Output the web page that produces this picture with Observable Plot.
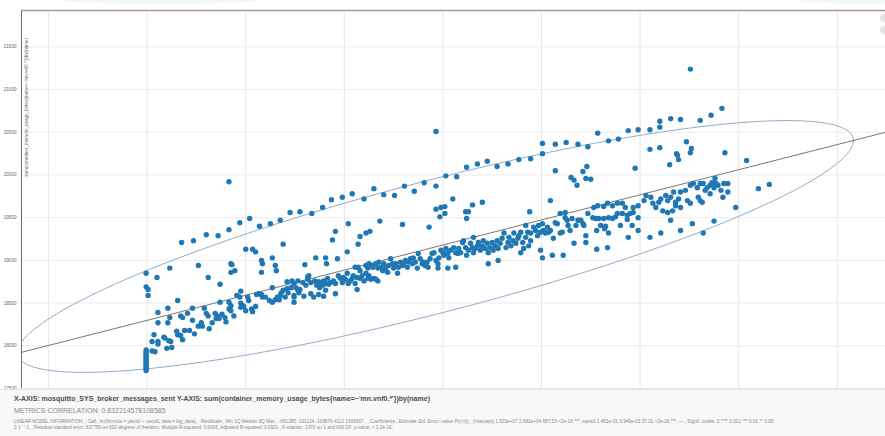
<!DOCTYPE html>
<html>
<head>
<meta charset="utf-8">
<script src="https://cdn.jsdelivr.net/npm/d3@7"></script>
<script src="https://cdn.jsdelivr.net/npm/@observablehq/plot@0.6"></script>
<style>
  html, body { margin: 0; padding: 0; background: #fff; }
  #wrap { position: relative; width: 885px; height: 436px; overflow: hidden; font-family: "Liberation Sans", Arial, sans-serif; }
  #chart { position: absolute; left: 0; top: 0; }
  #footer { position: absolute; left: 0; top: 389px; width: 885px; height: 47px; background: #f7f8f9; border-top: 1px solid #e2e2e2; }
  .fl { position: absolute; left: 14px; white-space: nowrap; }
  #l1 { top: 5px; font-size: 7px; font-weight: bold; color: #4d4d4d; }
  #l2 { top: 17px; font-size: 7px; color: #8a8a8a; }
  #l3 { top: 29px; font-size: 4.7px; color: #8a8a8a; }
  #l4 { top: 35px; font-size: 4.7px; color: #8a8a8a; }
  .ic { position: absolute; left: 880px; width: 8px; height: 8px; border-radius: 50%; background: #e4e4e4; }
  .glow { position: absolute; background: #eef8f8; border-radius: 50%; }
</style>
</head>
<body>
<div id="wrap">
  <div class="glow" style="left:60px;top:-6px;width:200px;height:10px;"></div>
  <div class="glow" style="left:800px;top:-6px;width:120px;height:10px;"></div>
  <div id="chart"></div>
  <div class="ic" style="top:14px;"></div>
  <div class="ic" style="top:26px;"></div>
  <div id="footer">
    <div class="fl" id="l1"></div>
    <div class="fl" id="l2"></div>
    <div class="fl" id="l3"></div>
    <div class="fl" id="l4"></div>
  </div>
</div>
<script>
// x: messages sent (x 10^4), y: memory usage (x 10^4 bytes)
const xGridTicks = [100, 200, 300, 400, 500, 600, 700, 800, 900];
const yGridTicks = [1750, 1800, 1850, 1900, 1950, 2000, 2050, 2100, 2150];
const xDomain = [72.6, 948.9];
const yDomain = [1750, 2192.6];

const regIntercept = 1771;
const regSlope = 0.294;

const ellipseCenter = [492.5, 1916.3];
const ellipseAxisU = [423.9, 124.1];
const ellipseAxisV = [0, 79.6];

const baseColumn = [[199,1771],[199,1773],[199,1775],[199,1777],[199,1779],[199,1781],[199,1783],[199,1785],[199,1787],[199,1789],[199,1791],[199,1793],[199,1795]];

const upperScatter = [
[235,1921],[247,1923],[260,1930],[272,1929],[283,1936],[294,1944],[304,1949],[314,1940],[325,1943],[335,1947],[345,1956],[355,1957],[338,1919],[223,1891],[252,1894],[199,1885],[210,1880],[262,1880],[274,1872],[300,1913],[307,1913],[310,1910],[285,1896],[286,1895],[285,1886],[289,1888],[316,1900],[317,1896],[316,1886],[327,1903],[330,1894],[331,1888],[342,1875],[283,1992],[199,1869],[201,1866],[201,1859],[231,1853],
[367,1955],[378,1962],[404,1943],[436,1946],[459,1942],[391,1934],[388,1924],[414,1919],[416,1928],[422,1932],[426,1934],[403,1910],[371,1903],[381,1903],[382,1896],[393,1902],[360,1895],[486,1939],[363,1881],[387,1971],[398,1974],[408,1978],[420,1972],[430,1984],[440,1977],[451,1976],[461,1987],[471,1981],[481,1991],[493,1987],[493,2051],
[493,1960],[498,1962],[502,1963],[502,1955],[497,1951],[523,1957],[526,1957],[524,1949],[530,1965],[540,1968],[510,1972],[588,1957],[609,1970],[503,1999],[514,1998],[524,2009],[535,2013],[545,2016],[555,2010],[566,2013],[577,2018],[589,2019],[601,2037],[601,2025],[614,2036],[625,2038],[637,2036],[647,2033],[657,2049],[614,2005],[630,1997],[633,1994],[636,1988],[642,2004],[646,2010],[645,1996],[650,1995],
[751,2124],[783,2078],[772,2070],[761,2064],[741,2065],[731,2066],[720,2063],[720,2056],[710,2053],[698,2053],[688,2052],[668,2040],[678,2042],[710,2030],[720,2032],[747,2039],[752,2031],[751,2026],[737,2025],[738,2023],[739,2018],[730,2012],[786,2026],[808,2017],[695,2008],[820,1984],[831,1989],[797,1962]
];

const bandWest = [
[211,1839],[211,1827],[221,1844],[223,1833],[221,1827],[207,1813],[205,1805],[205,1794],[208,1793],[211,1802],[211,1805],[217,1810],[218,1809],[220,1797],[225,1798],[222,1806],[224,1805],[230,1817],[231,1813],[234,1835],[236,1833],[234,1812],[236,1807],[238,1818],[243,1818],[246,1844],[241,1838],[246,1830],[248,1814],[252,1823],[256,1823],[255,1827],[258,1844],[260,1838],[262,1835],[263,1820],[266,1827],[269,1838],[271,1835],[270,1832],[273,1832],[274,1851],[276,1837],[279,1833],[280,1828],[283,1851],[285,1847],[283,1843],[285,1841],[288,1835],[291,1859],[294,1857],[295,1864],[295,1850],[295,1845],[297,1847],[298,1846],[300,1841],[302,1857],[303,1853],[306,1843],[307,1840],[310,1846],[311,1860],[313,1861],[316,1860],[317,1857],[320,1857],[324,1853],[327,1851],[327,1868],[330,1854],[332,1857],[334,1854],[335,1859],[336,1862],[338,1865],[342,1867],[343,1862],[340,1857],[346,1868],[349,1873],[353,1876],[355,1866],[349,1857],[349,1851],[354,1862]
];

const bandMid = [
[347,1876],[351,1868],[353,1865],[349,1859],[358,1874],[361,1871],[363,1878],[364,1882],[366,1874],[370,1876],[372,1871],[374,1875],[375,1868],[376,1874],[378,1871],[379,1876],[381,1873],[381,1865],[383,1879],[384,1872],[386,1874],[389,1876],[391,1873],[391,1861],[394,1882],[396,1879],[398,1874],[399,1880],[401,1878],[403,1885],[404,1873],[406,1876],[408,1879],[409,1882],[411,1873],[413,1880],[413,1866],[416,1879],[418,1882],[420,1876],[422,1885],[424,1879],[425,1882],[427,1878],[430,1879],[432,1878],[434,1876],[359,1858],[366,1861],[369,1857],[374,1860],[379,1858],
[411,1892],[414,1892],[416,1888],[422,1894],[424,1891],[425,1896],[427,1894],[429,1892],[432,1896],[434,1891],[435,1898],[437,1892],[439,1888],[440,1896],[442,1891],[444,1886],[445,1894],[447,1902],[449,1896],[450,1891],[452,1896],[454,1885],[455,1892],[457,1898],[459,1894],[460,1896],[462,1900],[464,1892],[465,1898],[467,1902],[469,1896],[470,1903],[472,1898],[474,1891],[475,1908],[477,1902],[479,1896],[480,1898],[482,1894],[484,1898],[485,1892],[487,1902],[489,1908],[491,1909],[493,1900],[495,1896],[496,1903],[495,1891]
];

const bandEast = [
[498,1912],[500,1909],[501,1906],[503,1914],[505,1908],[506,1903],[508,1912],[505,1891],[513,1892],[511,1915],[513,1909],[515,1908],[516,1914],[518,1909],[520,1921],[521,1923],[523,1915],[524,1906],[526,1912],[528,1920],[530,1915],[531,1927],[531,1909],[533,1914],[535,1917],[536,1921],[538,1912],[540,1917],[541,1923],[543,1914],[545,1920],[546,1896],[546,1909],[548,1915],[550,1921],[551,1912],[553,1917],[555,1923],[556,1900],[556,1914],[558,1920],[560,1926],[562,1932],[564,1915],[566,1921],[567,1927],[569,1917],[571,1923],[572,1932],[574,1920],[576,1926],[577,1929],[579,1933],[579,1909],[581,1921],[582,1914],[584,1941],[584,1927],[586,1933],[587,1917],[589,1932],[589,1923],[592,1939],[594,1935],[596,1929],[597,1941],[599,1933],[599,1912],[601,1903],[601,1943],[602,1935],[604,1932],[606,1939],[607,1933],[609,1935],[611,1906],[612,1926],[614,1944],[616,1943],[619,1955],[619,1932],[621,1933],[622,1906],[624,1956],[624,1950],[626,1947],[627,1941],[629,1935],[631,1949],[633,1920],[635,1941],[637,1947],[640,1947],[642,1943],[643,1941],[645,1929],[645,1921],[647,1955]
];

const bandFar = [
[653,1962],[657,1964],[663,1963],[667,1967],[672,1964],[677,1967],[682,1967],[685,1962],[652,1950],[655,1949],[658,1949],[663,1949],[668,1950],[672,1949],[675,1951],[677,1955],[682,1955],[687,1953],[690,1955],[693,1956],[660,1941],[665,1940],[656,1935],[664,1937],[668,1932],[680,1941],[687,1948],[692,1941],[698,1950],[698,1935],[688,1927],[710,1927],[721,1932],[667,1915],[656,1913],[693,1962],[698,1964],[704,1970],[706,1976],[711,1974],[713,1967],[716,1962],[719,1968],[721,1972],[726,1976],[728,1970],[731,1974],[734,1980],[736,1968],[739,1972],[741,1980],[746,1982],[751,1988],[754,1990],[758,1985],[761,1990],[764,1990],[766,1982],[768,1985],[771,1988],[773,1991],[775,1985],[777,1990],[776,1996],[779,1988],[785,1990],[789,1990],[723,1958],[728,1956],[733,1958],[736,1964],[741,1962],[748,1970],[751,1967],[759,1974],[761,1970],[763,1968],[771,1978],[782,1982],[784,1974],[789,1980],[731,1947],[741,1935],[753,1943],[764,1932],[775,1946]
];

const xLabel = "mosquitto_SYS_broker_messages_sent";
const yLabel = "sum(container_memory_usage_bytes{name=~'mn.vnf0.*'})by(name)";
const correlation = "0.832214578108585";
const modelLine1 = "LINEAR MODEL INFORMATION: , Call:, lm(formula = yaxis0 ~ xaxis0, data = big_data), , Residuals:, Min 1Q Median 3Q Max , -651285 -191124 -103870 4112 1509367 , , Coefficients:, Estimate Std. Error t value Pr(>|t|) , (Intercept) 1.820e+07 2.681e+04 687.53 <2e-16 ***, xaxis0 1.481e-01 3.949e-03 37.01 <2e-16 ***, --- , Signif. codes: 0 '***' 0.001 '**' 0.01 '*' 0.05";
const modelLine2 = "0.1 ' ' 1, , Residual standard error: 337780 on 600 degrees of freedom, Multiple R-squared: 0.6926, Adjusted R-squared: 0.6921 , F-statistic: 1370 on 1 and 600 DF, p-value: < 2.2e-16,";

const points = [...baseColumn, ...upperScatter, ...bandWest, ...bandMid, ...bandEast, ...bandFar];
const ellipse = d3.range(0, 361, 2).map(a => {
  const t = a * Math.PI / 180;
  return [ellipseCenter[0] + ellipseAxisU[0] * Math.cos(t) + ellipseAxisV[0] * Math.sin(t),
          ellipseCenter[1] + ellipseAxisU[1] * Math.cos(t) + ellipseAxisV[1] * Math.sin(t)];
});
const regLine = xDomain.map(x => [x, regIntercept + regSlope * x]);

const chart = Plot.plot({
  width: 885, height: 389,
  marginLeft: 21, marginRight: 0, marginTop: 10, marginBottom: 1,
  style: { background: "transparent", overflow: "visible", fontFamily: "Liberation Sans, Arial, sans-serif" },
  x: { domain: xDomain, axis: null },
  y: { domain: yDomain, axis: null },
  marks: [
    Plot.ruleX(xGridTicks, { stroke: "#e6e6e6", strokeWidth: 1 }),
    Plot.ruleY(yGridTicks, { stroke: "#ececec", strokeWidth: 1 }),
    Plot.ruleX([xDomain[0]], { stroke: "#6a6a6a", strokeWidth: 1 }),
    Plot.ruleY([yDomain[1]], { stroke: "#9a9a9a", strokeWidth: 1.6 }),
    Plot.line(ellipse, { x: d => d[0], y: d => d[1], stroke: "#8eaecd", strokeWidth: 1, clip: true }),
    Plot.line(regLine, { x: d => d[0], y: d => d[1], stroke: "#555", strokeWidth: 0.8 }),
    Plot.dot(points, { x: d => d[0], y: d => d[1], r: 2.7, fill: "#1f77b4", stroke: "none" }),
    Plot.text(yGridTicks, { x: xDomain[0], y: d => d, text: d => String(d * 10), textAnchor: "end", dx: -5, fontSize: 4.6, fill: "#666" }),
    Plot.text([yLabel], { x: xDomain[0], y: 1998, dx: 5, text: d => d, rotate: -90, textAnchor: "start", fontSize: 4.6, fill: "#666" })
  ]
});
document.getElementById("chart").appendChild(chart);
document.getElementById("l1").textContent = `X-AXIS: ${xLabel} Y-AXIS: ${yLabel}`;
document.getElementById("l2").textContent = `METRICS CORRELATION: ${correlation}`;
document.getElementById("l3").textContent = modelLine1;
document.getElementById("l4").textContent = modelLine2;
</script>
</body>
</html>
